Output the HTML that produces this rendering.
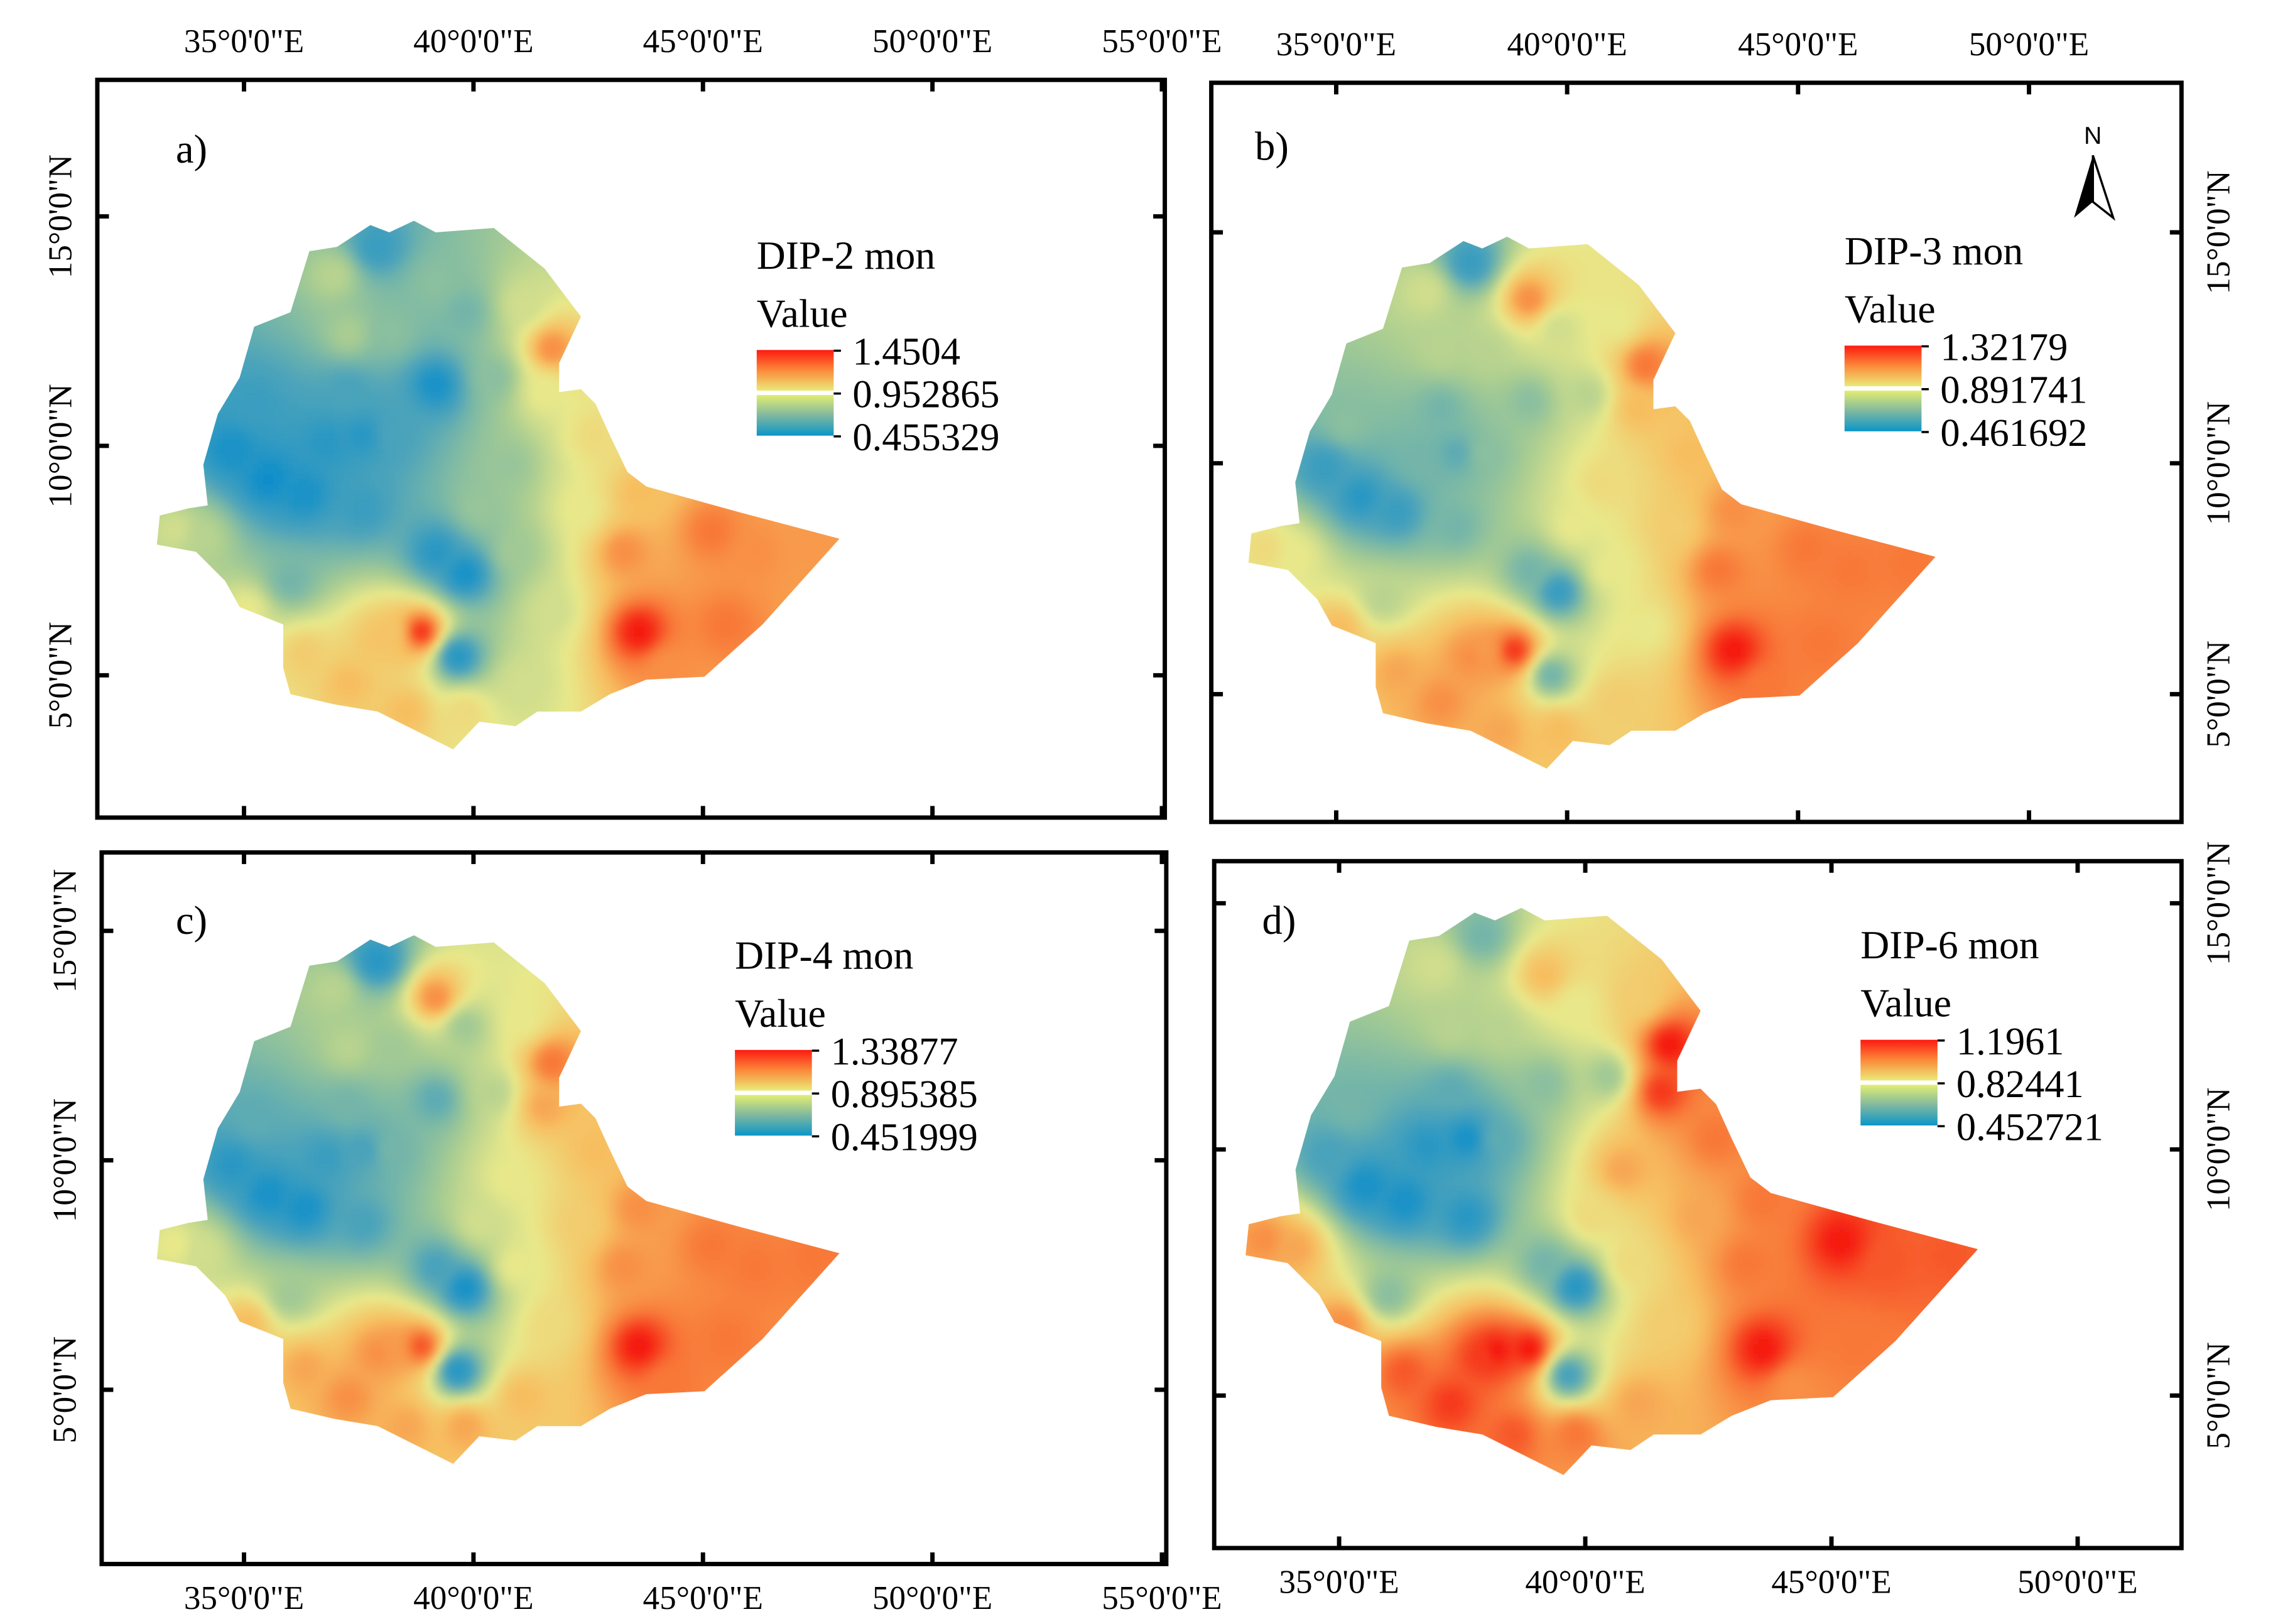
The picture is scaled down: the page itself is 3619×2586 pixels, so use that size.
<!DOCTYPE html>
<html><head><meta charset="utf-8"><style>
html,body{margin:0;padding:0;background:#fff;}
svg{display:block;font-family:"Liberation Serif",serif;}
</style></head><body>
<svg id="fig" width="3619" height="2586" viewBox="0 0 1565 1118.3" xmlns="http://www.w3.org/2000/svg">
<defs>
<filter id="blur" x="-5%" y="-5%" width="110%" height="110%"><feGaussianBlur stdDeviation="1.8"/></filter>
</defs>
</svg>
<script>
// Ethiopia outline, in panel-a display frame
const outlineA=[[213,173],[232,170],[255,155],[268,160],[285,152],[300,160],[340,157],[375,185],[400,218],[385,250],[385,270],[400,268],[410,278],[420,300],[432,325],[445,335],[510,353],[578,371],[525,430],[485,466],[445,468],[420,478],[400,490],[370,490],[355,500],[330,497],[312,516],[290,505],[260,490],[230,485],[200,478],[195,460],[195,430],[165,418],[155,400],[135,380],[108,375],[110,355],[130,350],[143,348],[140,320],[150,285],[165,260],[175,225],[200,215]];
// Station locations (panel-a display frame)
const stations=[[160,310],[185,330],[210,340],[225,305],[175,280],[240,270],[270,230],[300,265],[320,215],[300,195],[260,170],[230,190],[270,300],[250,350],[320,395],[300,380],[350,320],[340,260],[360,210],[380,240],[375,270],[410,300],[400,350],[380,420],[360,470],[320,490],[280,490],[240,470],[210,450],[260,440],[290,435],[315,452],[200,400],[140,370],[120,365],[170,420],[430,380],[440,435],[490,366],[520,380],[500,430],[460,460],[440,340],[560,375],[355,380],[240,230],[250,300],[330,350],[269,436]];
// Normalised index values per station (0 = min, 1 = max of legend)
const valuesA=[.05,.02,.05,.1,.15,.2,.35,.05,.3,.35,.15,.45,.2,.15,.05,.1,.38,.35,.5,.8,.55,.6,.55,.5,.5,.6,.7,.7,.65,.68,.95,.1,.3,.45,.5,.55,.8,1,.85,.8,.85,.8,.7,.78,.4,.42,.1,.38,.68];
const valuesB=[.15,.1,.15,.3,.35,.3,.45,.35,.5,.8,.15,.5,.35,.3,.15,.3,.6,.45,.55,.85,.7,.7,.65,.55,.65,.7,.75,.8,.75,.8,.95,.3,.45,.55,.6,.7,.85,1,.85,.85,.85,.85,.8,.85,.55,.45,.25,.55,.78];
const valuesC=[.1,.05,.05,.15,.25,.3,.4,.25,.4,.8,.1,.45,.3,.2,.05,.2,.55,.45,.55,.85,.75,.7,.65,.6,.7,.75,.75,.8,.75,.8,.9,.1,.4,.5,.55,.7,.8,1,.85,.85,.85,.85,.8,.85,.55,.45,.2,.5,.78];
const valuesD=[.2,.05,.05,.1,.3,.25,.45,.35,.55,.7,.3,.5,.25,.1,.1,.3,.75,.4,.65,1,.95,.85,.75,.65,.75,.85,.9,.95,.9,.95,1,.2,.35,.75,.8,.8,.85,1,1,.9,.85,.8,.85,.9,.6,.45,.05,.6,1];
const labelsA=["1.4504","0.952865","0.455329"];
const labelsB=["1.32179","0.891741","0.461692"];
const labelsC=["1.33877","0.895385","0.451999"];
const labelsD=["1.1961","0.82441","0.452721"];

const NS="http://www.w3.org/2000/svg";
const svg=document.getElementById('fig');
const defs=svg.querySelector('defs');
function el(tag,attrs,parent){const e=document.createElementNS(NS,tag);for(const k in attrs)e.setAttribute(k,attrs[k]);(parent||svg).appendChild(e);return e;}
function cmap(v){
 const st=[[0,[10,140,204]],[0.22,[80,165,185]],[0.42,[170,205,145]],[0.55,[232,232,138]],[0.7,[247,190,96]],[0.85,[248,120,56]],[1,[245,26,16]]];
 v=Math.max(0,Math.min(1,v));
 for(let i=1;i<st.length;i++){if(v<=st[i][0]){const a=st[i-1],b=st[i],t=(v-a[0])/(b[0]-a[0]);const c=a[1].map((x,j)=>Math.round(x+(b[1][j]-x)*t));return `rgb(${c})`;}}
 return 'rgb(245,26,16)';
}
const toLL=p=>[35+(p[0]-168)/31.6,15-(p[1]-149)/31.6];
const llOutline=outlineA.map(toLL);
const llStations=stations.map(toLL);

const panels=[
 {id:'a',box:[67,55,802,563],x35:168,px5:158,y15:149,lonT:[35,40,45,50,55],vals:valuesA,labels:labelsA,title:"DIP-2 mon",tag:[121,112],leg:[521,185],top:true,left:true},
 {id:'b',box:[834,57,1502,566],x35:920,px5:159,y15:160,lonT:[35,40,45,50],vals:valuesB,labels:labelsB,title:"DIP-3 mon",tag:[864,110],leg:[1270,182],top:true,left:false},
 {id:'c',box:[70,587,803,1077],x35:168,px5:158,y15:641,lonT:[35,40,45,50,55],vals:valuesC,labels:labelsC,title:"DIP-4 mon",tag:[121,643],leg:[506,667],top:false,left:true},
 {id:'d',box:[836,593,1502,1066],x35:922,px5:169.5,y15:622,lonT:[35,40,45,50],vals:valuesD,labels:labelsD,title:"DIP-6 mon",tag:[869,643],leg:[1281,660],top:false,left:false}
];
const latT=[15,10,5];
panels.forEach(P=>{
 const g=el('g',{});
 
 
 const xs=lon=>P.x35+(lon-35)*P.px5/5, ys=lat=>P.y15+(15-lat)*P.px5/5;
 const cp=el('clipPath',{id:'clip'+P.id},defs);
 const pts=llOutline.map(p=>[xs(p[0]),ys(p[1])]);
 el('polygon',{points:pts.map(p=>p[0].toFixed(1)+','+p[1].toFixed(1)).join(' ')},cp);
 const mg=el('g',{'clip-path':`url(#clip${P.id})`},g);
 
 
 const bg=el('g',{filter:'url(#blur)'},mg);
 const minx=Math.min(...pts.map(p=>p[0]))-4,maxx=Math.max(...pts.map(p=>p[0]))+4;
 const miny=Math.min(...pts.map(p=>p[1]))-4,maxy=Math.max(...pts.map(p=>p[1]))+4;
 const sp=llStations.map(s=>[xs(s[0]),ys(s[1])]);
 const cs=3.5;
 let frag=[];
 for(let y=miny;y<maxy;y+=cs){
  for(let x=minx;x<maxx;x+=cs){
   const cx=x+cs/2,cy=y+cs/2;let sw=0,sv=0,hit=-1;
   for(let i=0;i<sp.length;i++){const dx=cx-sp[i][0],dy=cy-sp[i][1];const d2=dx*dx+dy*dy;if(d2<1){hit=i;break;}const w=1/Math.pow(d2,1.25);sw+=w;sv+=w*P.vals[i];}
   const v=hit>=0?P.vals[hit]:sv/sw;
   frag.push(`<rect x="${x.toFixed(1)}" y="${y.toFixed(1)}" width="${cs+0.6}" height="${cs+0.6}" fill="${cmap(v)}"/>`);
  }
 }
 bg.innerHTML=frag.join('');
 const fr=el('rect',{x:P.box[0],y:P.box[1],width:P.box[2]-P.box[0],height:P.box[3]-P.box[1],fill:'none',stroke:'#000','stroke-width':3},g);
 
 
 P.lonT.forEach(lon=>{
  const x=xs(lon);
  el('line',{x1:x,x2:x,y1:P.box[1]-1,y2:P.box[1]+8,stroke:'#000','stroke-width':3},g);
  el('line',{x1:x,x2:x,y1:P.box[3]+1,y2:P.box[3]-8,stroke:'#000','stroke-width':3},g);
  const ty=P.top?P.box[1]-19:P.box[3]+31;
  const t=el('text',{x:x,y:ty,'text-anchor':'middle','font-size':23},g);
  t.textContent=lon+"°0'0\"E";
  
  
 });
 latT.forEach(lat=>{
  const y=ys(lat);
  el('line',{x1:P.box[0]-1,x2:P.box[0]+8,y1:y,y2:y,stroke:'#000','stroke-width':3},g);
  el('line',{x1:P.box[2]+1,x2:P.box[2]-8,y1:y,y2:y,stroke:'#000','stroke-width':3},g);
  const tx=P.left?P.box[0]-18:P.box[2]+33;
  const t=el('text',{x:tx,y:y,'text-anchor':'middle','font-size':23,transform:`rotate(-90 ${tx} ${y})`},g);
  t.textContent=lat+"°0'0\"N";
  
  
 });
 const tg=el('text',{x:P.tag[0],y:P.tag[1],'font-size':28},g);
 tg.textContent=P.id+')';
 
 
 const lg=el('g',{},g);
 
 
 const L=P.leg;
 const t1=el('text',{x:L[0],y:L[1],'font-size':27.5},lg); t1.textContent=P.title;
 const t2=el('text',{x:L[0],y:L[1]+40,'font-size':27.5},lg); t2.textContent="Value";
 const gt='lt'+P.id, gb='lb'+P.id;
 const a=el('linearGradient',{id:gt,x1:0,y1:0,x2:0,y2:1},defs);
 el('stop',{offset:0,'stop-color':'#fd1a10'},a);el('stop',{offset:0.5,'stop-color':'#fb8a3a'},a);el('stop',{offset:1,'stop-color':'#ebea78'},a);
 const b=el('linearGradient',{id:gb,x1:0,y1:0,x2:0,y2:1},defs);
 el('stop',{offset:0,'stop-color':'#e3ee70'},b);el('stop',{offset:0.5,'stop-color':'#7fb8a0'},b);el('stop',{offset:1,'stop-color':'#0a96c8'},b);
 const by=L[1]+56;
 el('rect',{x:L[0],y:by,width:53,height:28,fill:`url(#${gt})`},lg);
 el('rect',{x:L[0],y:by+31,width:53,height:28,fill:`url(#${gb})`},lg);
 P.labels.forEach((s,i)=>{
  const yy=by+i*29.5;
  el('line',{x1:L[0]+53,x2:L[0]+58,y1:yy+0.5,y2:yy+0.5,stroke:'#000','stroke-width':1.5},lg);
  const t=el('text',{x:L[0]+66,y:yy+10,'font-size':27},lg); t.textContent=s;
  
  
 });
});
const na=el('g',{});


const nt=el('text',{x:1441,y:99,'text-anchor':'middle','font-size':17,'font-family':'Liberation Sans, sans-serif'},na); nt.textContent='N';
el('polygon',{points:'1441,107 1428,150 1441,139',fill:'#000'},na);
el('polygon',{points:'1441,107 1455,150 1441,139',fill:'#fff',stroke:'#000','stroke-width':1.5},na);
</script>
</body></html>
